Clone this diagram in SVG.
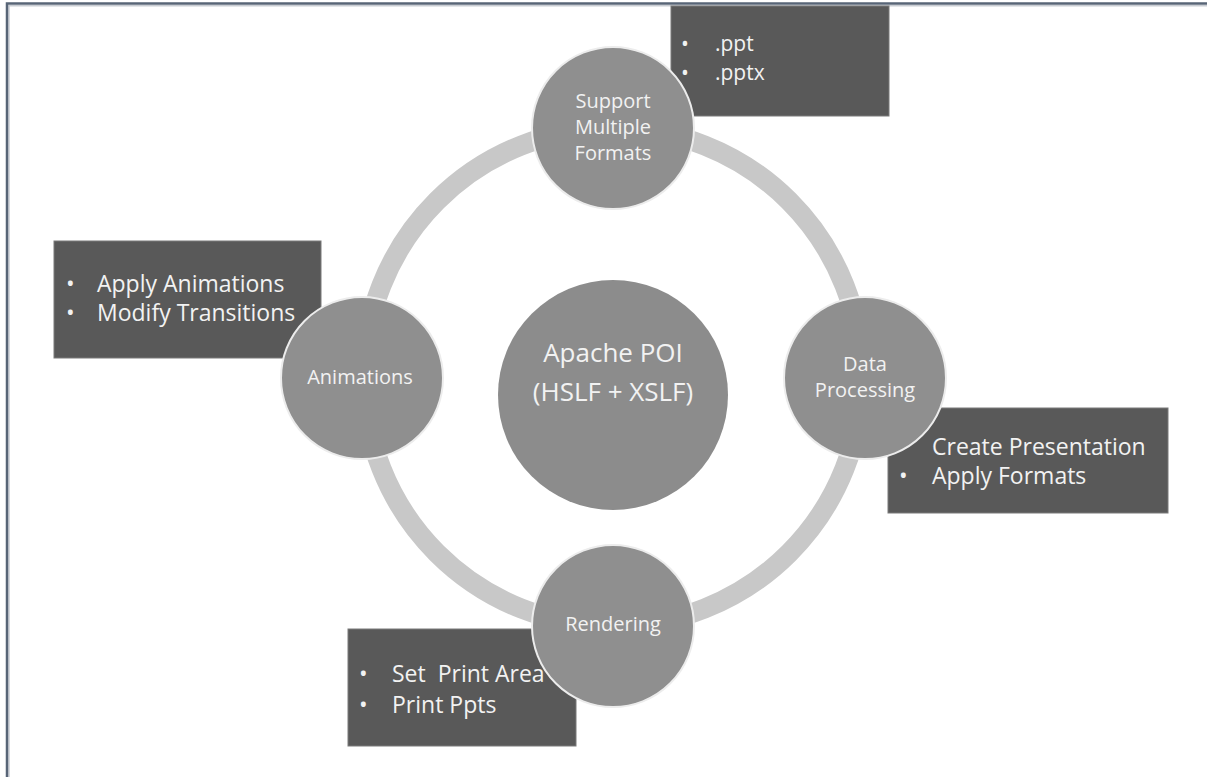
<svg xmlns="http://www.w3.org/2000/svg" width="1207" height="777" viewBox="0 0 1207 777">
  <style>
    .frame { fill: none; stroke: #586577; stroke-width: 2.5; }
    .frame-shadow { fill: none; stroke: #c9cdd3; stroke-width: 1.5; }
    .ring { fill: none; stroke: #c8c8c8; stroke-width: 20; }
    .hub { fill: #8c8c8c; }
    .node { fill: #8f8f8f; stroke: #ececec; stroke-width: 2; }
    .note { fill: #595959; stroke: #7a7a7a; stroke-width: 1; }
    text { font-family: "Open Sans", "Liberation Sans", sans-serif; fill: #f2f2f2; }
    .hub-text { font-size: 26px; text-anchor: middle; }
    .node-text { font-size: 20px; text-anchor: middle; }
    .note-text { font-size: 23px; }
    .note-small { font-size: 21px; }
  </style>

  <rect width="1207" height="777" fill="#ffffff"/>

  <!-- page frame: top and left edges -->
  <path class="frame-shadow" d="M9,777 V5.8 H1207"/>
  <path class="frame" d="M7,777 V3.5 H1207"/>

  <!-- ring joining the four feature nodes -->
  <g id="connectors">
    <circle class="ring" cx="613" cy="377" r="249"/>
  </g>

  <!-- central hub -->
  <g id="hub">
    <circle class="hub" cx="613" cy="395" r="115"/>
    <text class="hub-text" x="613" y="362">Apache POI</text>
    <text class="hub-text" x="613" y="401">(HSLF + XSLF)</text>
  </g>

  <!-- detail boxes (drawn beneath the nodes); each line is bullet + item -->
  <g id="note-formats">
    <rect class="note" x="671" y="6" width="218" height="110"/>
    <text class="note-small" y="51"><tspan x="681">•</tspan><tspan x="715">.ppt</tspan></text>
    <text class="note-small" y="80"><tspan x="681">•</tspan><tspan x="715">.pptx</tspan></text>
  </g>

  <g id="note-animations">
    <rect class="note" x="54" y="241" width="267" height="117"/>
    <text class="note-text" y="292"><tspan x="66">•</tspan><tspan x="97">Apply Animations</tspan></text>
    <text class="note-text" y="321"><tspan x="66">•</tspan><tspan x="97">Modify Transitions</tspan></text>
  </g>

  <g id="note-processing">
    <rect class="note" x="888" y="408" width="280" height="105"/>
    <text class="note-text" x="932" y="455">Create Presentation</text>
    <text class="note-text" y="484"><tspan x="899">•</tspan><tspan x="932">Apply Formats</tspan></text>
  </g>

  <g id="note-rendering">
    <rect class="note" x="348" y="629" width="228" height="117"/>
    <text class="note-text" y="682" xml:space="preserve"><tspan x="359">•</tspan><tspan x="392">Set  Print Area</tspan></text>
    <text class="note-text" y="713"><tspan x="359">•</tspan><tspan x="392">Print Ppts</tspan></text>
  </g>

  <!-- feature nodes on the ring -->
  <g id="node-formats">
    <circle class="node" cx="613" cy="128" r="81"/>
    <text class="node-text" x="613" y="108">Support</text>
    <text class="node-text" x="613" y="134">Multiple</text>
    <text class="node-text" x="613" y="160">Formats</text>
  </g>

  <g id="node-animations">
    <circle class="node" cx="362" cy="378" r="81"/>
    <text class="node-text" x="360" y="384">Animations</text>
  </g>

  <g id="node-processing">
    <circle class="node" cx="865" cy="378" r="81"/>
    <text class="node-text" x="865" y="371">Data</text>
    <text class="node-text" x="865" y="397">Processing</text>
  </g>

  <g id="node-rendering">
    <circle class="node" cx="613" cy="626" r="81"/>
    <text class="node-text" x="613" y="631">Rendering</text>
  </g>
</svg>
